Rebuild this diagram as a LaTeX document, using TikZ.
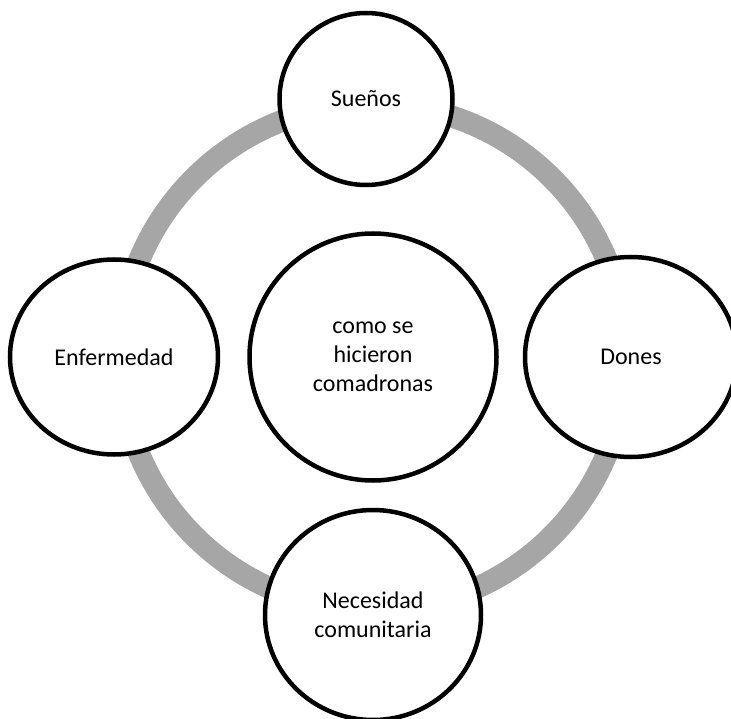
\documentclass[tikz,border=0pt]{standalone}
\usepackage{fontspec}
\setmainfont{Carlito}
\definecolor{anillogris}{RGB}{166, 166, 166}
\usetikzlibrary{
  positioning,
  shapes.geometric,
}

\begin{document}
\begin{tikzpicture}[x=1pt,y=-1pt,
    burbuja/.style={draw,ellipse,line width=4.5pt,fill=white,align=center,inner sep=0pt,font=\fontsize{24}{29}\selectfont},
    anillo/.style={draw=anillogris,line width=22pt}]

        \useasboundingbox (0,0) rectangle (731,719);

        \coordinate (medio) at (373,357);
        \draw[anillo] (medio) circle (253);

        \node[burbuja,minimum width=247,minimum height=247]    (centro) at (medio)       {como se\\hicieron\\comadronas};
        \node[burbuja,minimum width=173,minimum height=172]    (suenos) at (366,99)      {Sueños};
        \node[burbuja,minimum width=208,minimum height=195]    (enferm) at (114,357)     {Enfermedad};
        \node[burbuja,minimum width=212,minimum height=200]    (dones) at (631,357)      {Dones};
        \node[burbuja,minimum width=216,minimum height=210]    (necesidad) at (373,615)  {Necesidad\\comunitaria};

    \end{tikzpicture}
\end{document}
